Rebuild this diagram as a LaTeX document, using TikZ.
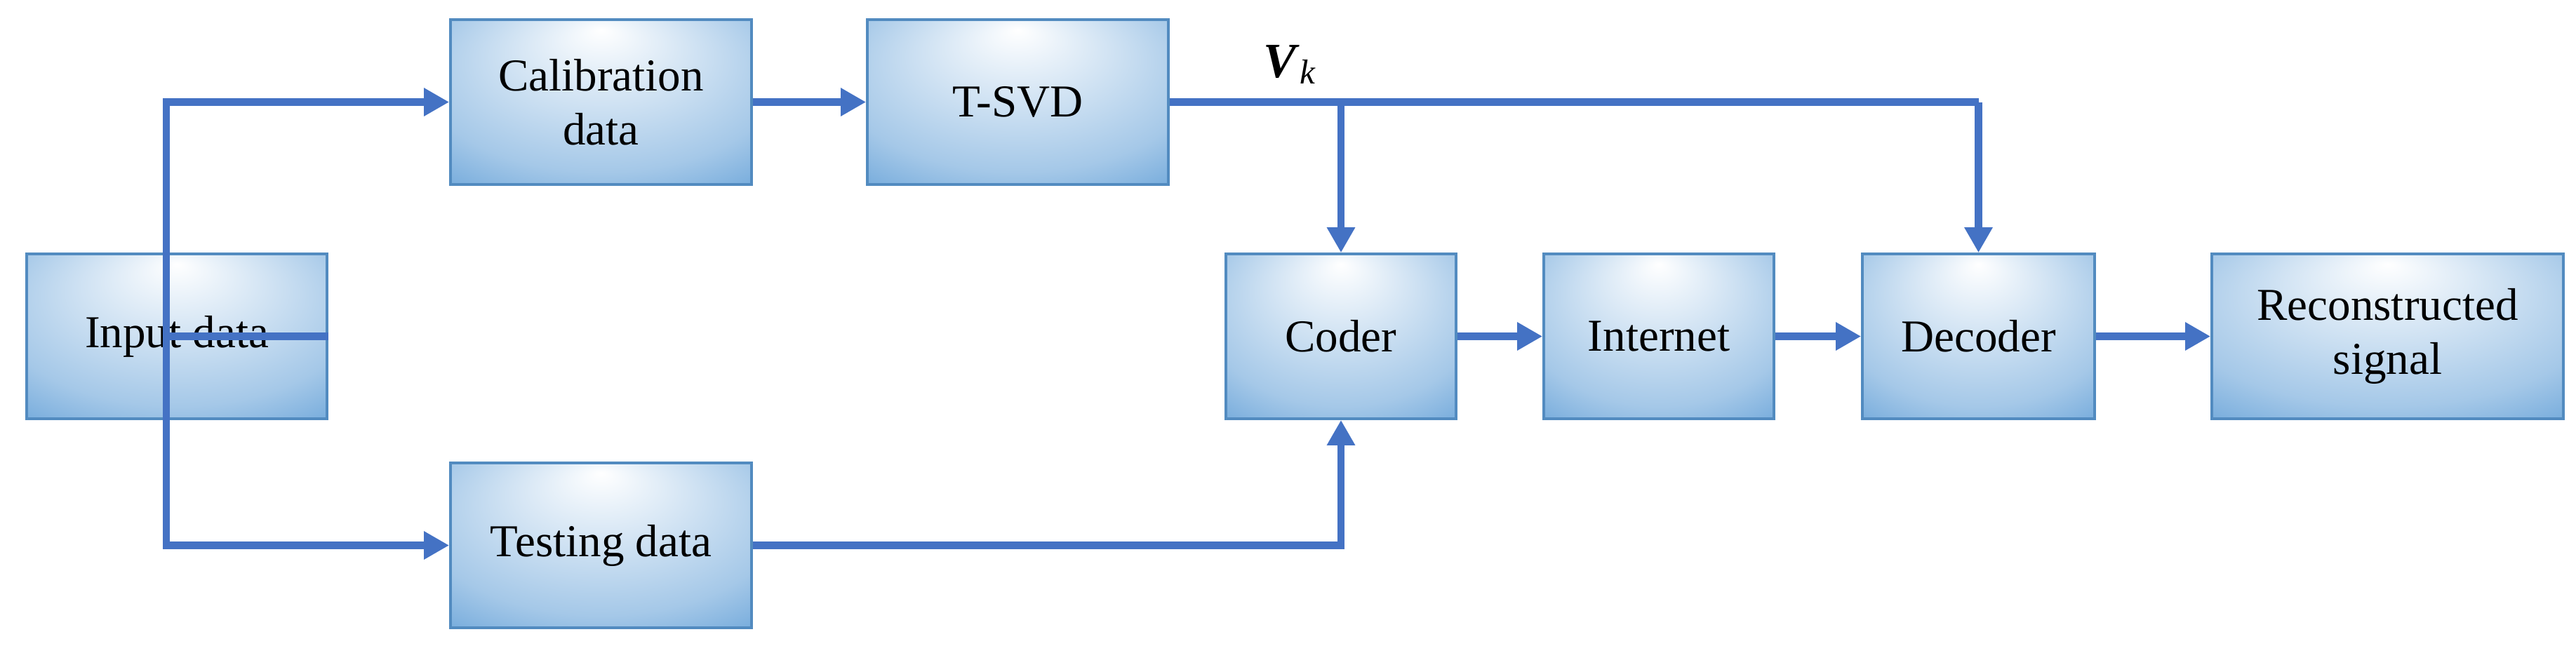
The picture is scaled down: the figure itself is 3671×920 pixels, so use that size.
\documentclass[tikz,border=0pt]{standalone}
\usepackage{fontspec}
\setmainfont{Liberation Serif}
\usetikzlibrary{arrows.meta}
\definecolor{lineblue}{HTML}{4472C4}
\definecolor{boxblue}{HTML}{5B9BD5}
\pgfdeclareradialshading{boxshade}{\pgfpoint{0bp}{22bp}}{color(0bp)=(white);color(8bp)=(white!85!boxblue);color(30bp)=(white!45!boxblue);color(45bp)=(boxblue);color(50bp)=(boxblue)}
\begin{document}
\begin{tikzpicture}[x=0.01cm,y=-0.01cm,
  box/.style={draw=boxblue!90!black,line width=1pt,shading=boxshade,inner sep=0pt,align=center,font=\fontsize{18.5}{22}\selectfont},
  conn/.style={draw=lineblue,line width=3.1pt},
  arr/.style={conn,-{Triangle[length=0.36cm,width=0.38cm]}}]
\useasboundingbox (0,0) rectangle (3671,920);
\node[box,minimum width=4.28cm,minimum height=2.35cm] (in) at (252,479.5) {Input data};
\node[box,minimum width=4.29cm,minimum height=2.35cm] (cal) at (856.5,145.5) {Calibration\\data};
\node[box,minimum width=4.29cm,minimum height=2.35cm] (svd) at (1450.5,145.5) {T-SVD};
\node[box,minimum width=4.29cm,minimum height=2.35cm] (test) at (856.5,777.5) {Testing data};
\node[box,minimum width=3.28cm,minimum height=2.35cm] (coder) at (1911,479.5) {Coder};
\node[box,minimum width=3.28cm,minimum height=2.35cm] (net) at (2364,479.5) {Internet};
\node[box,minimum width=3.31cm,minimum height=2.35cm] (dec) at (2819.5,479.5) {Decoder};
\node[box,minimum width=5.01cm,minimum height=2.35cm] (rec) at (3402.5,479.5) {Reconstructed\\signal};
\coordinate (br) at (237,479.5);
\coordinate (t1) at (1911,145.5);
\coordinate (t2) at (2819.5,145.5);
\draw[conn] (in.east) -- (br);
\draw[arr] (br) |- (cal.west);
\draw[arr] (br) |- (test.west);
\draw[arr] (cal) -- (svd);
\draw[conn] (svd.east) -- (t2);
\draw[arr] (t1) -- (coder.north);
\draw[arr] (t2) -- (dec.north);
\draw[arr] (test.east) -| (coder.south);
\draw[arr] (coder) -- (net);
\draw[arr] (net) -- (dec);
\draw[arr] (dec) -- (rec);
\node[font=\fontsize{20}{24}\selectfont,anchor=base] (vk) at (1838,110) {\textbf{\textit{V}}\raisebox{-0.3ex}{\fontsize{14}{16}\selectfont\textit{k}}};
\end{tikzpicture}
\end{document}
